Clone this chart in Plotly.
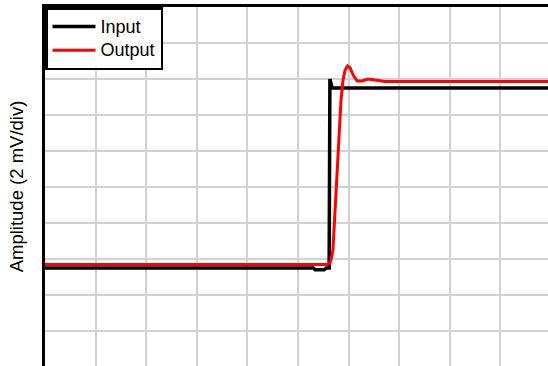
import plotly.graph_objects as go

# Time axis in divisions, amplitude in mV (2 mV per division)
input_t = [0.0, 5.30, 5.34, 5.52, 5.56, 5.615, 5.63, 5.655, 5.675, 9.94]
input_mv = [5.5, 5.5, 5.4, 5.4, 5.5, 5.5, 16.0, 15.6, 15.5, 15.5]

output_t = [0.0, 5.57, 5.63, 5.66, 5.69, 5.73, 5.77, 5.85, 5.89, 5.93, 5.98,
            6.03, 6.09, 6.17, 6.27, 6.38, 6.52, 6.72, 9.94]
output_mv = [5.69, 5.69, 5.78, 6.05, 6.5, 8.44, 10.5, 14.83, 15.94, 16.5, 16.72,
             16.61, 16.22, 15.89, 15.89, 16.0, 15.94, 15.86, 15.86]

series_names = ["Input", "Output"]


def legend_label(text):
    # larger glyphs on a tighter legend row pitch
    return "<span style='font-size:18px'>" + text + "</span>"


fig = go.Figure()
fig.add_trace(go.Scatter(x=input_t, y=input_mv, mode="lines",
                         name=legend_label(series_names[0]),
                         line=dict(color="black", width=3.5)))
fig.add_trace(go.Scatter(x=output_t, y=output_mv, mode="lines",
                         name=legend_label(series_names[1]),
                         line=dict(color="#ff0000", width=3)))

fig.update_layout(
    width=548, height=366,
    margin=dict(l=45, r=0, t=7, b=0),
    plot_bgcolor="white", paper_bgcolor="white",
    font=dict(family="Liberation Sans, Arial, sans-serif", color="black"),
    showlegend=True,
    legend=dict(x=0, y=1, xanchor="left", yanchor="top",
                bgcolor="white", bordercolor="black", borderwidth=2.5,
                font=dict(size=16), itemwidth=43, tracegroupgap=0),
)
fig.update_xaxes(range=[0, 9.94], dtick=1, tick0=0, showticklabels=False,
                 ticks="", showgrid=True, gridcolor="#d2d2d2", gridwidth=1.5,
                 side="top", showline=True, linecolor="black", linewidth=3,
                 zeroline=False, fixedrange=True)
fig.update_yaxes(range=[0.056, 20], dtick=2, tick0=0, showticklabels=False,
                 ticks="", showgrid=True, gridcolor="#d2d2d2", gridwidth=1.5,
                 showline=True, linecolor="black", linewidth=3, zeroline=False,
                 title=dict(text="Amplitude (2 mV/div)", font=dict(size=18.5),
                            standoff=14),
                 fixedrange=True)

fig.write_html("out.html")
